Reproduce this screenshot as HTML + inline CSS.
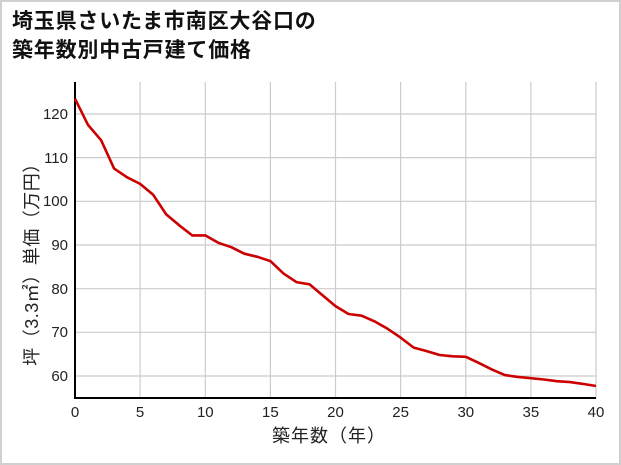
<!DOCTYPE html>
<html><head><meta charset="utf-8"><style>
body{margin:0;background:#fff;}
svg{display:block;font-family:"Liberation Sans","Noto Sans CJK JP",sans-serif;}
</style></head><body>
<svg width="621" height="465" viewBox="0 0 621 465">
<rect x="1" y="1" width="619" height="463" fill="#fff" stroke="#d0d0d0" stroke-width="2"/>
<text x="12" y="28" font-size="21" font-weight="bold" fill="#111" letter-spacing="0.8">埼玉県さいたま市南区大谷口の</text>
<text x="12" y="57" font-size="21" font-weight="bold" fill="#111" letter-spacing="0.8">築年数別中古戸建て価格</text>
<g stroke="#cccccc" stroke-width="1.2">
<line x1="75" y1="376" x2="596" y2="376"/><line x1="75" y1="332.3" x2="596" y2="332.3"/>
<line x1="75" y1="288.7" x2="596" y2="288.7"/><line x1="75" y1="245" x2="596" y2="245"/>
<line x1="75" y1="201.3" x2="596" y2="201.3"/><line x1="75" y1="157.6" x2="596" y2="157.6"/>
<line x1="75" y1="114" x2="596" y2="114"/>
<line x1="140.1" y1="82" x2="140.1" y2="398"/><line x1="205.3" y1="82" x2="205.3" y2="398"/>
<line x1="270.4" y1="82" x2="270.4" y2="398"/><line x1="335.5" y1="82" x2="335.5" y2="398"/>
<line x1="400.6" y1="82" x2="400.6" y2="398"/><line x1="465.8" y1="82" x2="465.8" y2="398"/>
<line x1="530.9" y1="82" x2="530.9" y2="398"/><line x1="596" y1="82" x2="596" y2="398"/>
</g>
<line x1="75" y1="82" x2="75" y2="399" stroke="#000" stroke-width="2"/>
<line x1="74" y1="398" x2="596" y2="398" stroke="#000" stroke-width="2"/>
<polyline fill="none" stroke="#cc0000" stroke-width="2.6" stroke-linejoin="round" points="75,98.7 88,124.9 101.1,140.2 114.1,168.6 127.1,177.3 140.1,183.9 153.2,194.8 166.2,214.4 179.2,225.3 192.2,235.4 205.3,235.4 218.3,242.8 231.3,247.2 244.3,253.7 257.4,256.8 270.4,261.1 283.4,273.4 296.4,282.1 309.5,284.3 322.5,295.2 335.5,306.1 348.5,314 361.6,315.7 374.6,321.4 387.6,328.8 400.6,337.6 413.7,347.6 426.7,351.1 439.7,355 452.7,356.3 465.8,356.8 478.8,362.9 491.8,369.4 504.8,375.1 517.9,376.9 530.9,378.2 543.9,379.5 556.9,381.2 570,382.1 583,383.9 596,386"/>
<g font-size="15" fill="#222" text-anchor="end">
<text x="68" y="381">60</text><text x="68" y="337">70</text><text x="68" y="294">80</text>
<text x="68" y="250">90</text><text x="68" y="206">100</text><text x="68" y="163">110</text><text x="68" y="119">120</text>
</g>
<g font-size="15" fill="#222" text-anchor="middle">
<text x="75" y="417">0</text><text x="140.1" y="417">5</text><text x="205.3" y="417">10</text>
<text x="270.4" y="417">15</text><text x="335.5" y="417">20</text><text x="400.6" y="417">25</text>
<text x="465.8" y="417">30</text><text x="530.9" y="417">35</text><text x="596" y="417">40</text>
</g>
<text x="329" y="442" font-size="18" fill="#222" text-anchor="middle" letter-spacing="1">築年数（年）</text>
<text transform="translate(38,260) rotate(-90)" font-size="18" fill="#222" text-anchor="middle" letter-spacing="0.5">坪（3.3㎡）単価（万円）</text>
</svg>
</body></html>
